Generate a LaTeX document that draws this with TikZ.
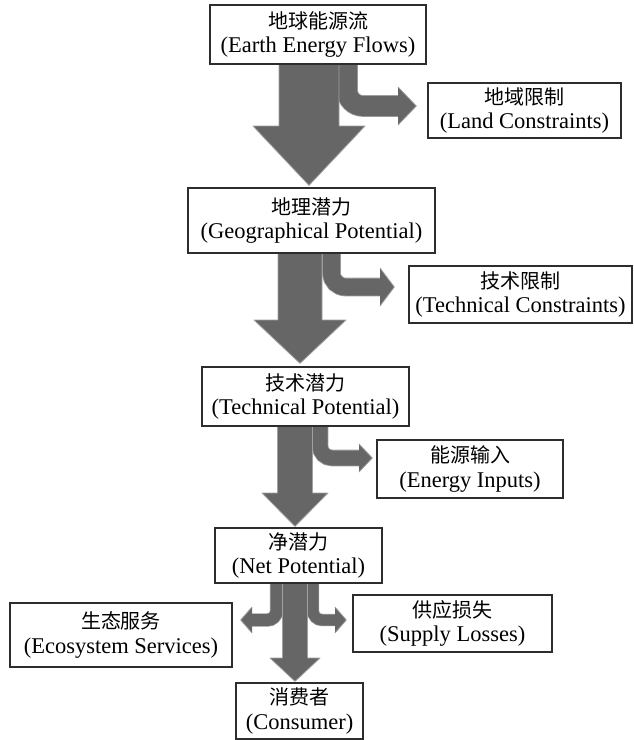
\documentclass[tikz,border=0pt]{standalone}
\usepackage{fontspec}
\setmainfont{Liberation Serif}
\newfontfamily\cjk{Noto Sans CJK SC}
\usetikzlibrary{calc}
\definecolor{arrowgray}{RGB}{102,102,102}
\definecolor{rimgray}{RGB}{160,160,160}
\definecolor{boxline}{RGB}{45,45,45}
\tikzset{
  box/.style={draw=boxline, line width=1.3pt, fill=white, align=center, inner sep=0pt,
    font=\fontsize{22.5}{24.5}\selectfont},
  arrowbody/.style={fill=arrowgray, draw=rimgray, line width=0.8pt, line join=round},
  headfill/.style={fill=arrowgray},
  headrim/.style={draw=rimgray, line width=0.8pt, line join=round},
  branchrim/.style={draw=rimgray},
  branchbody/.style={draw=arrowgray},
}
\newcommand{\twolines}[2]{{\cjk\fontsize{20}{24.5}\selectfont #1}\\#2}
\begin{document}
\begin{tikzpicture}[x=1pt,y=-1pt]
\useasboundingbox (0,0) rectangle (634,740);

% box positions
\path
  (318,34.5)    coordinate (pb1)
  (524.5,110.5) coordinate (plc)
  (311.5,220.5) coordinate (pb2)
  (520.5,294.5) coordinate (ptc)
  (305.5,396.5) coordinate (pb3)
  (470,469)     coordinate (pei)
  (298.5,555.5) coordinate (pb4)
  (121,635)     coordinate (pes)
  (452.5,623.5) coordinate (psl)
  (299.5,711)   coordinate (pco);

\node[box, minimum width=216pt, minimum height=59pt] (b1) at (pb1) {\twolines{地球能源流}{(Earth Energy Flows)}};
\node[box, minimum width=193pt, minimum height=55pt] (lc) at (plc) {\twolines{地域限制}{(Land Constraints)}};
\node[box, minimum width=247pt, minimum height=65pt] (b2) at (pb2) {\twolines{地理潜力}{(Geographical Potential)}};
\node[box, minimum width=223pt, minimum height=57pt] (tc) at (ptc) {\twolines{技术限制}{(Technical Constraints)}};
\node[box, minimum width=207pt, minimum height=59pt] (b3) at (pb3) {\twolines{技术潜力}{(Technical Potential)}};
\node[box, minimum width=186pt, minimum height=58pt] (ei) at (pei) {\twolines{能源输入}{(Energy Inputs)}};
\node[box, minimum width=167pt, minimum height=55pt] (b4) at (pb4) {\twolines{净潜力}{(Net Potential)}};
\node[box, minimum width=222pt, minimum height=64pt] (es) at (pes) {\twolines{生态服务}{(Ecosystem Services)}};
\node[box, minimum width=199pt, minimum height=57pt] (sl) at (psl) {\twolines{供应损失}{(Supply Losses)}};
\node[box, minimum width=127pt, minimum height=56pt] (co) at (pco) {\twolines{消费者}{(Consumer)}};

% Branch 1: b1 -> lc
\draw[branchrim, line width=21.6pt, rounded corners=16pt] let \p1=(b1.south) in (347,\y1) |- (399,106);
\draw[branchbody, line width=20pt, rounded corners=16pt] let \p1=(b1.south) in (347,\y1) |- (399,106);
\fill[headfill] let \p2=(lc.west) in (398,87) -- (\x2-11pt,-106pt) -- (398,125) -- cycle;
\draw[headrim] let \p2=(lc.west) in (398,87) -- (\x2-11pt,-106pt) -- (398,125);
% Main 1: b1 -> b2
\draw[arrowbody] let \p1=(b1.south), \p2=(b2.north) in
  (279,\y1) -- (279,126) -- (253,126) -- (309,\y2+2pt) -- (365,126) -- (339,126) -- (339,\y1);

% Branch 2: b2 -> tc
\draw[branchrim, line width=18.6pt, rounded corners=14pt] let \p1=(b2.south) in (331.5,\y1) |- (381,287);
\draw[branchbody, line width=17pt, rounded corners=14pt] let \p1=(b2.south) in (331.5,\y1) |- (381,287);
\fill[headfill] let \p2=(tc.west) in (380,268) -- (\x2-14pt,-287pt) -- (380,306) -- cycle;
\draw[headrim] let \p2=(tc.west) in (380,268) -- (\x2-14pt,-287pt) -- (380,306);
% Main 2: b2 -> b3
\draw[arrowbody] let \p1=(b2.south), \p2=(b3.north) in
  (278,\y1) -- (278,320) -- (254,320) -- (300,\y2+3pt) -- (346,320) -- (322,320) -- (322,\y1);

% Branch 3: b3 -> ei
\draw[branchrim, line width=16.6pt, rounded corners=12pt] let \p1=(b3.south) in (320,\y1) |- (360,458);
\draw[branchbody, line width=15pt, rounded corners=12pt] let \p1=(b3.south) in (320,\y1) |- (360,458);
\fill[headfill] let \p2=(ei.west) in (359,444) -- (\x2-4pt,-458pt) -- (359,472) -- cycle;
\draw[headrim] let \p2=(ei.west) in (359,444) -- (\x2-4pt,-458pt) -- (359,472);
% Main 3: b3 -> b4
\draw[arrowbody] let \p1=(b3.south), \p2=(b4.north) in
  (277.5,\y1) -- (277.5,493) -- (262,493) -- (295,\y2+1pt) -- (328,493) -- (312.5,493) -- (312.5,\y1);

% Branch 4 left: b4 -> es
\draw[branchrim, line width=13.4pt, rounded corners=9pt] let \p1=(b4.south) in (276.5,\y1) |- (251,620);
\draw[branchbody, line width=12pt, rounded corners=9pt] let \p1=(b4.south) in (276.5,\y1) |- (251,620);
\fill[headfill] let \p2=(es.east) in (252,607) -- (\x2+8pt,-620pt) -- (252,633) -- cycle;
\draw[headrim] let \p2=(es.east) in (252,607) -- (\x2+8pt,-620pt) -- (252,633);
% Branch 4 right: b4 -> sl
\draw[branchrim, line width=12.4pt, rounded corners=9pt] let \p1=(b4.south) in (313,\y1) |- (336,620);
\draw[branchbody, line width=11pt, rounded corners=9pt] let \p1=(b4.south) in (313,\y1) |- (336,620);
\fill[headfill] let \p2=(sl.west) in (335,607) -- (\x2-6pt,-620pt) -- (335,633) -- cycle;
\draw[headrim] let \p2=(sl.west) in (335,607) -- (\x2-6pt,-620pt) -- (335,633);
% Main 4: b4 -> co
\draw[arrowbody] let \p1=(b4.south), \p2=(co.north) in
  (282.5,\y1) -- (282.5,658) -- (270,658) -- (295,\y2+1pt) -- (320,658) -- (307.5,658) -- (307.5,\y1);

% redraw box bottom borders over arrow starts
\foreach \n in {b1,b2,b3,b4}{
  \draw[boxline, line width=1.3pt] (\n.south west) -- (\n.south east);
}
\end{tikzpicture}
\end{document}
